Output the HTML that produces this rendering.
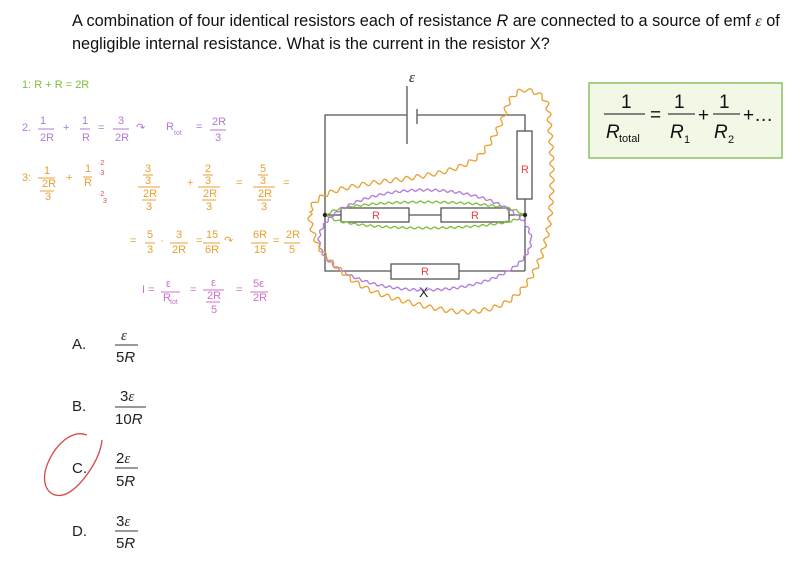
<!DOCTYPE html>
<html><head><meta charset="utf-8"><style>
html,body{margin:0;padding:0;background:#fff;}
svg{display:block;}
.q{font-family:"Liberation Sans",sans-serif;font-size:16.3px;fill:#111;}
.h{font-family:"Liberation Sans",sans-serif;font-size:11px;}
.g{fill:#7cbf3a}.p{fill:#b07ad8}.o{fill:#e8a030}.m{fill:#d070c8}.r{fill:#e04848}
</style></head><body>
<svg id="s" width="800" height="567" viewBox="0 0 800 567" xmlns="http://www.w3.org/2000/svg">
<text class="q" x="72" y="26">A combination of four identical resistors each of resistance <tspan font-style="italic">R</tspan> are connected to a source of emf <tspan font-family="Liberation Serif" font-style="italic">ε</tspan> of</text>
<text class="q" x="72" y="49">negligible internal resistance.  What is the current in the resistor X?</text>

<g class="h">
<text class="g" x="22" y="88">1:  R  +  R  =  2R</text>
<g class="p">
<text x="22" y="131">2.</text>
<text x="40" y="124">1</text><text x="40" y="141">2R</text><line x1="38" y1="129" x2="54" y2="129" stroke="#b07ad8"/>
<text x="63" y="131">+</text>
<text x="82" y="124">1</text><text x="82" y="141">R</text><line x1="80" y1="129" x2="90" y2="129" stroke="#b07ad8"/>
<text x="98" y="131">=</text>
<text x="118" y="124">3</text><text x="115" y="141">2R</text><line x1="113" y1="129" x2="129" y2="129" stroke="#b07ad8"/>
<text x="136" y="131">↷</text>
<text x="166" y="130">R</text><text x="174" y="135" font-size="7">tot</text>
<text x="196" y="130">=</text>
<text x="212" y="125">2R</text><text x="215" y="141">3</text><line x1="210" y1="130" x2="226" y2="130" stroke="#b07ad8"/>
</g>
<g class="o">
<text x="22" y="181">3:</text>
<text x="44" y="174">1</text><text x="42" y="187">2R</text><text x="45" y="200">3</text>
<line x1="38" y1="178" x2="55" y2="178" stroke="#e8a030"/><line x1="40" y1="191" x2="54" y2="191" stroke="#e8a030"/>
<text x="66" y="181">+</text>
<text x="85" y="172">1</text><text x="84" y="186">R</text><line x1="83" y1="177" x2="92" y2="177" stroke="#e8a030"/>
<text x="145" y="172">3</text><text x="145" y="184">3</text><text x="143" y="197">2R</text><text x="146" y="210">3</text>
<line x1="143" y1="175" x2="153" y2="175" stroke="#e8a030"/><line x1="138" y1="187" x2="160" y2="187" stroke="#e8a030"/><line x1="142" y1="200" x2="156" y2="200" stroke="#e8a030"/>
<text x="187" y="186">+</text>
<text x="205" y="172">2</text><text x="205" y="184">3</text><text x="203" y="197">2R</text><text x="206" y="210">3</text>
<line x1="203" y1="175" x2="213" y2="175" stroke="#e8a030"/><line x1="198" y1="187" x2="220" y2="187" stroke="#e8a030"/><line x1="202" y1="200" x2="216" y2="200" stroke="#e8a030"/>
<text x="236" y="186">=</text>
<text x="260" y="172">5</text><text x="260" y="184">3</text><text x="258" y="197">2R</text><text x="261" y="210">3</text>
<line x1="258" y1="175" x2="268" y2="175" stroke="#e8a030"/><line x1="253" y1="187" x2="275" y2="187" stroke="#e8a030"/><line x1="257" y1="200" x2="271" y2="200" stroke="#e8a030"/>
<text x="283" y="186">=</text>
<text x="130" y="244">=</text>
<text x="147" y="238">5</text><text x="147" y="253">3</text><line x1="145" y1="243" x2="155" y2="243" stroke="#e8a030"/>
<text x="160" y="244">·</text>
<text x="176" y="238">3</text><text x="172" y="253">2R</text><line x1="170" y1="243" x2="188" y2="243" stroke="#e8a030"/>
<text x="196" y="244">=</text>
<text x="206" y="238">15</text><text x="205" y="253">6R</text><line x1="203" y1="243" x2="220" y2="243" stroke="#e8a030"/>
<text x="224" y="244">↷</text>
<text x="253" y="238">6R</text><text x="254" y="253">15</text><line x1="251" y1="243" x2="268" y2="243" stroke="#e8a030"/>
<text x="273" y="244">=</text>
<text x="286" y="238">2R</text><text x="289" y="253">5</text><line x1="284" y1="243" x2="300" y2="243" stroke="#e8a030"/>
</g>
<g class="r" font-size="7"><text x="98" y="165">·2</text><text x="98" y="175">·3</text><text x="98" y="196">·2</text><text x="103" y="203">3</text></g>
<g class="m">
<text x="142" y="293">I  =</text>
<text x="166" y="287">ε</text><text x="163" y="301">R</text><text x="170" y="304" font-size="7">tot</text><line x1="161" y1="292" x2="180" y2="292" stroke="#d070c8"/>
<text x="190" y="293">=</text>
<text x="211" y="286">ε</text><text x="207" y="299">2R</text><text x="211" y="313">5</text><line x1="203" y1="290" x2="224" y2="290" stroke="#d070c8"/><line x1="206" y1="302" x2="220" y2="302" stroke="#d070c8"/>
<text x="236" y="293">=</text>
<text x="253" y="287">5ε</text><text x="253" y="301">2R</text><line x1="250" y1="292" x2="268" y2="292" stroke="#d070c8"/>
</g>
</g>

<g stroke="#555" stroke-width="1.3" fill="none">
<polyline points="407,115 325,115 325,271 391,271"/>
<polyline points="417,115 525,115 525,131"/>
<line x1="525" y1="199" x2="525" y2="271"/>
<line x1="459" y1="271" x2="525" y2="271"/>
<line x1="325" y1="215" x2="341" y2="215"/><line x1="409" y1="215" x2="441" y2="215"/><line x1="509" y1="215" x2="525" y2="215"/>
<line x1="407" y1="86" x2="407" y2="144"/><line x1="417" y1="109" x2="417" y2="124"/>
<rect x="517" y="131" width="15" height="68" fill="#fff"/>
<rect x="341" y="208" width="68" height="14" fill="#fff"/>
<rect x="441" y="208" width="68" height="14" fill="#fff"/>
<rect x="391" y="264" width="68" height="15" fill="#fff"/>
</g>
<circle cx="325" cy="215" r="2.2" fill="#222"/><circle cx="525" cy="215" r="2.2" fill="#222"/>
<text x="409" y="82" font-family="Liberation Serif" font-style="italic" font-size="15" fill="#222">ε</text>
<g class="h r" font-size="11"><text x="372" y="219">R</text><text x="471" y="219">R</text><text x="421" y="275">R</text><text x="521" y="173">R</text></g>
<text x="419" y="297" font-family="Liberation Sans" font-size="14" fill="#222">X</text>
<g id="waves" fill="none" stroke-width="1.3"></g>

<rect x="589" y="83" width="193" height="75" fill="#f1f8e6" stroke="#8cc060" stroke-width="1.5"/>
<g font-family="Liberation Sans" font-size="19" fill="#111">
<text x="621" y="108">1</text><line x1="604" y1="114" x2="645" y2="114" stroke="#111"/>
<text x="606" y="138" font-style="italic">R</text><text x="619" y="142" font-size="11">total</text>
<text x="650" y="121">=</text>
<text x="674" y="108">1</text><line x1="668" y1="114" x2="695" y2="114" stroke="#111"/>
<text x="670" y="138" font-style="italic">R</text><text x="684" y="143" font-size="11">1</text>
<text x="698" y="121">+</text>
<text x="719" y="108">1</text><line x1="713" y1="114" x2="740" y2="114" stroke="#111"/>
<text x="714" y="138" font-style="italic">R</text><text x="728" y="143" font-size="11">2</text>
<text x="743" y="121">+…</text>
</g>

<g font-family="Liberation Sans" font-size="15" fill="#222">
<text x="72" y="349">A.</text><text x="72" y="411">B.</text><text x="72" y="473">C.</text><text x="72" y="536">D.</text>
<text x="121" y="340" font-family="Liberation Serif" font-style="italic">ε</text><line x1="115" y1="345" x2="138" y2="345" stroke="#333"/><text x="116" y="362">5<tspan font-style="italic">R</tspan></text>
<text x="120" y="401">3<tspan font-family="Liberation Serif" font-style="italic">ε</tspan></text><line x1="115" y1="407" x2="146" y2="407" stroke="#333"/><text x="115" y="424">10<tspan font-style="italic">R</tspan></text>
<text x="116" y="463">2<tspan font-family="Liberation Serif" font-style="italic">ε</tspan></text><line x1="115" y1="468" x2="138" y2="468" stroke="#333"/><text x="116" y="486">5<tspan font-style="italic">R</tspan></text>
<text x="116" y="526">3<tspan font-family="Liberation Serif" font-style="italic">ε</tspan></text><line x1="115" y1="531" x2="138" y2="531" stroke="#333"/><text x="116" y="548">5<tspan font-style="italic">R</tspan></text>
</g>
<path d="M87,435 C70,428 50,450 45,472 C42,492 55,500 68,493 C82,485 100,460 102,440" fill="none" stroke="#d84848" stroke-width="1.3"/>
</svg>
<script>
function wavy(pts,amp,wl,color){
 var acc=0,n=pts.length,out=[];
 for(var i=0;i<n;i++){var a=pts[i],b=pts[(i+1)%n];var dx=b[0]-a[0],dy=b[1]-a[1],L=Math.hypot(dx,dy);if(L<0.01)continue;var steps=Math.max(1,Math.round(L/1.5));
  for(var k=0;k<steps;k++){var t=k/steps;var x=a[0]+dx*t,y=a[1]+dy*t;var s=acc+L*t;var o=amp*Math.sin(s/wl*2*Math.PI);out.push([x-dy/L*o,y+dx/L*o]);}acc+=L;}
 var d="M"+out.map(function(p){return p[0].toFixed(1)+","+p[1].toFixed(1)}).join(" L")+"Z";
 var e=document.createElementNS("http://www.w3.org/2000/svg","path");e.setAttribute("d",d);e.setAttribute("stroke",color);document.getElementById("waves").appendChild(e);}
function ell(cx,cy,rx,ry,N){var p=[];for(var i=0;i<N;i++){var a=i/N*2*Math.PI;p.push([cx+rx*Math.cos(a),cy+ry*Math.sin(a)]);}return p;}
wavy(ell(425,215,97,13,80),1,8,"#7cbf3a");
wavy(ell(425,240,106,50,100),1.2,8,"#b07ad8");
var orange=[[310,212],[325,195],[360,185],[410,178],[450,170],[480,155],[500,125],[510,100],[525,90],[545,100],[550,130],[552,180],[548,230],[535,270],[510,300],[470,312],[420,305],[370,290],[340,270],[318,245]];
function smooth(p,seg){var r=[],n=p.length;for(var i=0;i<n;i++){var p0=p[(i-1+n)%n],p1=p[i],p2=p[(i+1)%n],p3=p[(i+2)%n];for(var k=0;k<seg;k++){var t=k/seg,t2=t*t,t3=t2*t;r.push([0.5*(2*p1[0]+(-p0[0]+p2[0])*t+(2*p0[0]-5*p1[0]+4*p2[0]-p3[0])*t2+(-p0[0]+3*p1[0]-3*p2[0]+p3[0])*t3),0.5*(2*p1[1]+(-p0[1]+p2[1])*t+(2*p0[1]-5*p1[1]+4*p2[1]-p3[1])*t2+(-p0[1]+3*p1[1]-3*p2[1]+p3[1])*t3)]);}}return r;}
wavy(smooth(orange,6),2.2,11,"#e8a030");
</script>
</body></html>
